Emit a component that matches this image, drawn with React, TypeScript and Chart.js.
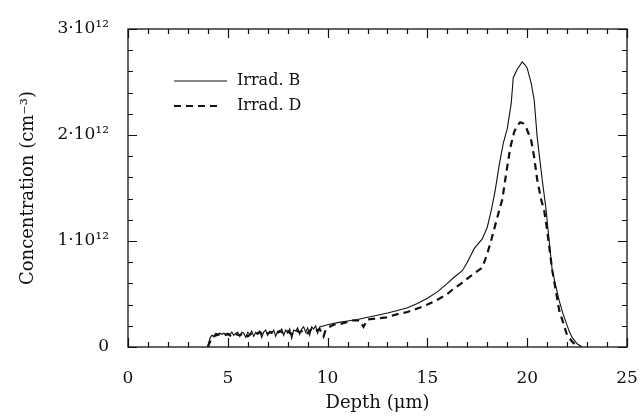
import React, { useEffect, useRef } from "react";
import { Chart, registerables } from "chart.js";

Chart.register(...registerables);

// Depth in µm, concentration in units of 1e12 cm^-3
const seriesLabels = ["Irrad. B", "Irrad. D"];

const depthB = [
  4.0, 4.1, 4.2, 4.3, 4.4, 4.5, 4.6, 4.7, 4.8, 4.9,
  5.0, 5.1, 5.2, 5.3, 5.4, 5.5, 5.6, 5.7, 5.8, 5.9,
  6.0, 6.1, 6.2, 6.3, 6.4, 6.5, 6.6, 6.7, 6.8, 6.9,
  7.0, 7.1, 7.2, 7.3, 7.4, 7.5, 7.6, 7.7, 7.8, 7.9,
  8.0, 8.1, 8.2, 8.3, 8.4, 8.5, 8.6, 8.7, 8.8, 8.9,
  9.0, 9.1, 9.2, 9.3, 9.4, 9.5, 9.6, 10.0, 10.5, 11.0,
  11.5, 12.0, 12.5, 13.0, 13.5, 14.0, 14.5, 15.0, 15.5, 16.0,
  16.35, 16.75, 17.0, 17.35, 17.75, 18.0, 18.2, 18.4, 18.6, 18.8,
  19.0, 19.2, 19.3, 19.5, 19.75, 19.9, 20.0, 20.2, 20.35, 20.5,
  20.75, 20.95, 21.1, 21.25, 21.4, 21.6, 21.8, 21.95, 22.1, 22.25,
  22.5, 22.75,
];
const concB = [
  0.0, 0.08, 0.11, 0.10, 0.13, 0.12, 0.13, 0.12, 0.13, 0.12,
  0.13, 0.12, 0.14, 0.11, 0.13, 0.14, 0.10, 0.14, 0.13, 0.09,
  0.14, 0.12, 0.15, 0.10, 0.14, 0.12, 0.15, 0.09, 0.14, 0.16,
  0.11, 0.15, 0.13, 0.16, 0.10, 0.15, 0.14, 0.17, 0.11, 0.16,
  0.13, 0.17, 0.08, 0.16, 0.15, 0.18, 0.12, 0.17, 0.19, 0.14,
  0.18, 0.11, 0.19, 0.17, 0.20, 0.13, 0.19, 0.21, 0.23, 0.245,
  0.26, 0.28, 0.30, 0.32, 0.345, 0.37, 0.41, 0.46, 0.52, 0.60,
  0.66, 0.72, 0.80, 0.93, 1.02, 1.13, 1.29, 1.48, 1.72, 1.92,
  2.06, 2.30, 2.54, 2.62, 2.69, 2.66, 2.63, 2.49, 2.33, 1.98,
  1.58, 1.29, 1.0, 0.73, 0.60, 0.44, 0.31, 0.23, 0.15, 0.09,
  0.03, 0.0,
];

const depthD = [
  4.0, 4.2, 4.4, 4.6, 4.8, 5.0, 5.2, 5.4, 5.6, 5.8,
  6.0, 6.2, 6.4, 6.6, 6.8, 7.0, 7.2, 7.4, 7.6, 7.8,
  8.0, 8.2, 8.4, 8.6, 8.8, 9.0, 9.2, 9.4, 9.6, 9.8,
  9.9, 10.0, 10.3, 10.7, 11.25, 11.6, 11.8, 12.0, 12.95, 13.5,
  14.0, 14.6, 15.0, 15.45, 16.0, 16.25, 16.7, 17.1, 17.4, 17.75,
  18.0, 18.2, 18.4, 18.6, 18.75, 18.95, 19.15, 19.35, 19.5, 19.65,
  19.8, 19.95, 20.2, 20.35, 20.5, 20.7, 20.85, 21.0, 21.25, 21.6,
  22.0, 22.3, 22.6,
];
const concD = [
  0.0, 0.09, 0.11, 0.12, 0.11, 0.12, 0.10, 0.12, 0.11, 0.13,
  0.10, 0.13, 0.12, 0.14, 0.11, 0.13, 0.14, 0.12, 0.15, 0.13,
  0.15, 0.12, 0.16, 0.14, 0.16, 0.13, 0.17, 0.15, 0.17, 0.10,
  0.16, 0.18, 0.21, 0.22, 0.25, 0.25, 0.19, 0.26, 0.28, 0.31,
  0.33, 0.37, 0.40, 0.44, 0.50, 0.54, 0.60, 0.66, 0.70, 0.75,
  0.88, 1.01, 1.15, 1.29, 1.39, 1.64, 1.88, 2.03, 2.09, 2.12,
  2.11, 2.07, 1.95, 1.79, 1.58, 1.39, 1.29, 1.10, 0.73, 0.35,
  0.11, 0.04, 0.0,
];

const xMin = 0;
const xMax = 25;
const xMajorStep = 5;
const xMinorStep = 1;
const yMin = 0;
const yMax = 3;
const yMajorStep = 1;
const yMinorStep = 0.2;

const FONT = "'DejaVu Serif', serif";
const INK = "#111";

const yTickLabel = (v: number) => (v === 0 ? "0" : `${v}·10¹²`);

const framePlugin = {
  id: "frameTicksLegend",
  afterDraw(chart: any) {
    const { ctx, chartArea, scales } = chart;
    const { left, right, top, bottom } = chartArea;
    const x = scales.x;
    const y = scales.y;
    ctx.save();
    ctx.strokeStyle = INK;
    ctx.lineWidth = 1.3;
    ctx.setLineDash([]);
    ctx.strokeRect(left, top, right - left, bottom - top);

    ctx.lineWidth = 1.2;
    const nX = Math.round((xMax - xMin) / xMinorStep);
    const perX = Math.round(xMajorStep / xMinorStep);
    for (let i = 0; i <= nX; i++) {
      const v = xMin + i * xMinorStep;
      const px = Math.round(x.getPixelForValue(v)) + 0.5;
      const len = i % perX === 0 ? 9 : 5;
      ctx.beginPath();
      ctx.moveTo(px, bottom);
      ctx.lineTo(px, bottom - len);
      ctx.moveTo(px, top);
      ctx.lineTo(px, top + len);
      ctx.stroke();
    }
    const nY = Math.round((yMax - yMin) / yMinorStep);
    const perY = Math.round(yMajorStep / yMinorStep);
    for (let i = 0; i <= nY; i++) {
      const v = yMin + i * yMinorStep;
      const py = Math.round(y.getPixelForValue(v)) + 0.5;
      const len = i % perY === 0 ? 9 : 5;
      ctx.beginPath();
      ctx.moveTo(left, py);
      ctx.lineTo(left + len, py);
      ctx.moveTo(right, py);
      ctx.lineTo(right - len, py);
      ctx.stroke();
    }

    // legend
    chart.data.datasets.forEach((ds: any, i: number) => {
      const ly = top + 52 + i * 25;
      ctx.strokeStyle = INK;
      ctx.lineWidth = ds.borderWidth;
      ctx.setLineDash(ds.borderDash || []);
      ctx.beginPath();
      ctx.moveTo(left + 46, ly);
      ctx.lineTo(left + (ds.borderDash ? 92 : 99), ly);
      ctx.stroke();
      ctx.setLineDash([]);
      ctx.fillStyle = INK;
      ctx.font = `16px ${FONT}`;
      ctx.textBaseline = "middle";
      ctx.textAlign = "left";
      ctx.fillText(ds.label, left + 109, ly);
    });
    ctx.restore();
  },
};

export default function App() {
  const ref = useRef<HTMLCanvasElement | null>(null);

  useEffect(() => {
    if (!ref.current) return;
    const chart = new Chart(ref.current, {
      type: "line",
      data: {
        datasets: [
          {
            label: seriesLabels[0],
            data: depthB.map((d, i) => ({ x: d, y: concB[i] })),
            borderColor: INK,
            borderWidth: 1.1,
            pointRadius: 0,
            tension: 0,
            fill: false,
          },
          {
            label: seriesLabels[1],
            data: depthD.map((d, i) => ({ x: d, y: concD[i] })),
            borderColor: INK,
            borderWidth: 2.2,
            borderDash: [7, 5],
            pointRadius: 0,
            tension: 0,
            fill: false,
          },
        ],
      },
      options: {
        responsive: false,
        animation: false,
        layout: { padding: { top: 29, right: 13, bottom: 0, left: 0 } },
        plugins: {
          legend: { display: false },
          tooltip: { enabled: false },
        },
        scales: {
          x: {
            type: "linear",
            min: xMin,
            max: xMax,
            grid: { display: false },
            border: { display: false },
            ticks: {
              stepSize: xMajorStep,
              color: INK,
              font: { family: FONT, size: 17 },
              padding: 13,
              maxRotation: 0,
            },
            title: {
              display: true,
              text: "Depth (μm)",
              color: INK,
              font: { family: FONT, size: 18 },
              padding: { top: 0, bottom: 2 },
            },
            afterFit: (s: any) => {
              s.height = 69;
              s.paddingLeft = 0;
              s.paddingRight = 0;
            },
          },
          y: {
            type: "linear",
            min: yMin,
            max: yMax,
            grid: { display: false },
            border: { display: false },
            ticks: {
              stepSize: yMajorStep,
              color: INK,
              font: { family: FONT, size: 17 },
              padding: 11,
              callback: (v: any) => yTickLabel(Number(v)),
            },
            title: {
              display: true,
              text: "Concentration (cm⁻³)",
              color: INK,
              font: { family: FONT, size: 18 },
              padding: { top: 18, bottom: 0 },
            },
            afterFit: (s: any) => {
              s.width = 128;
              s.paddingTop = 0;
              s.paddingBottom = 0;
            },
          },
        },
      },
      plugins: [framePlugin],
    });
    return () => chart.destroy();
  }, []);

  return (
    <div style={{ position: "fixed", left: 0, top: 0, width: 640, height: 416, background: "#fff" }}>
      <canvas ref={ref} width={640} height={416} />
    </div>
  );
}
